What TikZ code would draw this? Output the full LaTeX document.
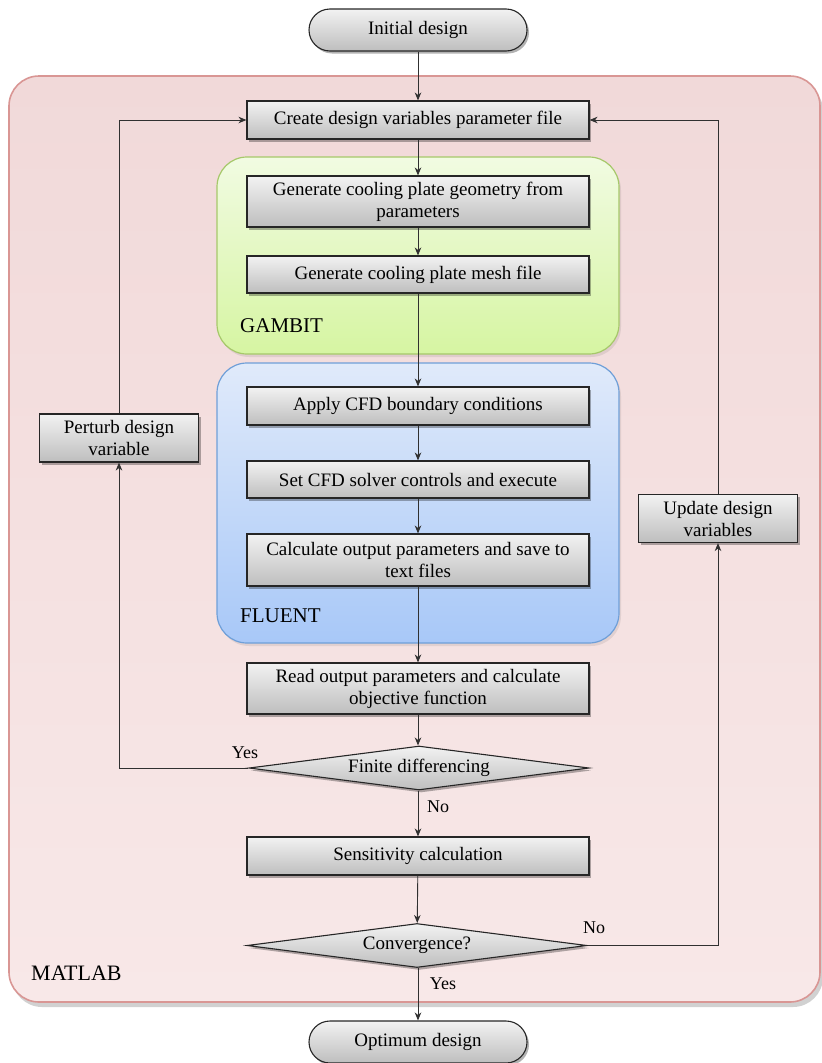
\documentclass[tikz,border=0pt]{standalone}
\usepackage{fontspec}
\setmainfont{Liberation Serif}
\usetikzlibrary{shapes.geometric,arrows.meta,shadows}
\definecolor{matborder}{HTML}{D99694}
\definecolor{mattop}{HTML}{F1D9D9}
\definecolor{matbot}{HTML}{F8E8E8}
\definecolor{gamborder}{HTML}{A6C86A}
\definecolor{gamtop}{HTML}{F1FBE2}
\definecolor{gambot}{HTML}{D6F5A2}
\definecolor{fluborder}{HTML}{6F9FD8}
\definecolor{flutop}{HTML}{E0EAFA}
\definecolor{flubot}{HTML}{A8C8F8}
\definecolor{boxtop}{HTML}{F2F2F2}
\definecolor{boxbot}{HTML}{BEBEBE}
\definecolor{linecol}{HTML}{303030}
\begin{document}
\begin{tikzpicture}[x=1pt,y=-1pt,
  basefont/.style={font=\fontsize{19}{22}\selectfont},
  procbox/.style={basefont, draw=black!85, line width=1.1pt, top color=boxtop, bottom color=boxbot,
    minimum width=342pt, inner sep=2pt, align=center,
    drop shadow={shadow xshift=2pt, shadow yshift=-2.5pt, fill=black, opacity=0.3}},
  sidebox/.style={procbox, minimum width=159pt, minimum height=48pt},
  terminal/.style={basefont, draw=black!85, line width=1.1pt, top color=boxtop, bottom color=boxbot,
    minimum width=218pt, minimum height=42pt, rounded corners=21pt,
    drop shadow={shadow xshift=2pt, shadow yshift=-2.5pt, fill=black, opacity=0.3}},
  decision/.style={basefont, diamond, draw=black!85, line width=1.1pt, top color=boxtop, bottom color=boxbot,
    inner sep=0pt, aspect=7.7, minimum width=340pt, minimum height=44pt,
    drop shadow={shadow xshift=2pt, shadow yshift=-2.5pt, fill=black, opacity=0.3}},
  arr/.style={draw=linecol, line width=0.9pt, -{Stealth[length=8pt,width=6.5pt,inset=2.5pt]}},
  lab/.style={font=\fontsize{18}{20}\selectfont, inner sep=0pt},
  grouplab/.style={font=\fontsize{21}{24}\selectfont, inner sep=0pt, anchor=west},
]
\useasboundingbox (0,0) rectangle (822,1063);
% MATLAB container
\fill[black, opacity=0.18, rounded corners=30pt] (12,81) rectangle (823,1007);
\draw[draw=matborder, line width=1.6pt, top color=mattop, bottom color=matbot, rounded corners=30pt]
  (9,76) rectangle (820,1002);
% GAMBIT container
\fill[black, opacity=0.08, rounded corners=30pt] (219,160) rectangle (621,357);
\draw[draw=gamborder, line width=1.2pt, top color=gamtop, bottom color=gambot, rounded corners=30pt]
  (217,157) rectangle (619,354);
% FLUENT container
\fill[black, opacity=0.08, rounded corners=30pt] (219,366) rectangle (621,646);
\draw[draw=fluborder, line width=1.2pt, top color=flutop, bottom color=flubot, rounded corners=30pt]
  (217,363) rectangle (619,643);

\node[grouplab] (gambitlab) at (240,326) {GAMBIT};
\node[grouplab] (fluentlab) at (240,616) {FLUENT};
\node[grouplab, font=\fontsize{22}{24}\selectfont] (matlablab) at (31,973) {MATLAB};

% nodes
\node[terminal] (init) at (418,30) {Initial design};
\node[procbox, minimum height=38pt] (create) at (418,120) {Create design variables parameter file};
\node[procbox, minimum height=51pt] (gen1) at (418,201.5) {Generate cooling plate geometry from\\parameters};
\node[procbox, minimum height=37pt] (gen2) at (418,274.5) {Generate cooling plate mesh file};
\node[procbox, minimum height=38pt] (apply) at (418,406) {Apply CFD boundary conditions};
\node[procbox, minimum height=37pt] (setctl) at (418,479.5) {Set CFD solver controls and execute};
\node[procbox, minimum height=52pt] (calc) at (418,560) {Calculate output parameters and save to\\text files};
\node[procbox, minimum height=51pt] (read) at (418,688.5) {Read output parameters and calculate\\objective function};
\node[decision] (finite) at (419,768) {Finite differencing};
\node[procbox, minimum height=38pt] (sens) at (418,856) {Sensitivity calculation};
\node[decision] (conv) at (417,945.5) {Convergence?};
\node[terminal] (opt) at (418,1042) {Optimum design};
\node[sidebox] (perturb) at (119,438) {Perturb design\\variable};
\node[sidebox] (update) at (718,518.5) {Update design\\variables};

% connectors
\draw[arr] (init) -- (create);
\draw[arr] (create) -- (gen1);
\draw[arr] (gen1) -- (gen2);
\draw[arr] (gen2) -- (apply);
\draw[arr] (apply) -- (setctl);
\draw[arr] (setctl) -- (calc);
\draw[arr] (calc) -- (read);
\draw[arr] (read.south) -- (read.south |- finite.north);
\draw[arr] (finite.south -| sens.north) -- (sens.north);
\draw[arr] (sens) -- (conv);
\draw[arr] (conv.south -| opt.north) -- (opt.north);
\draw[arr] (finite.west) -| (perturb.south);
\draw[arr] (perturb.north) |- (create.west);
\draw[arr] (conv.east) -| (update.south);
\draw[arr] (update.north) |- (create.east);

% labels
\node[lab] (yes1) at (245,753) {Yes};
\node[lab] (no1) at (438,807) {No};
\node[lab] (no2) at (594,928) {No};
\node[lab] (yes2) at (443,984) {Yes};
\end{tikzpicture}
\end{document}
